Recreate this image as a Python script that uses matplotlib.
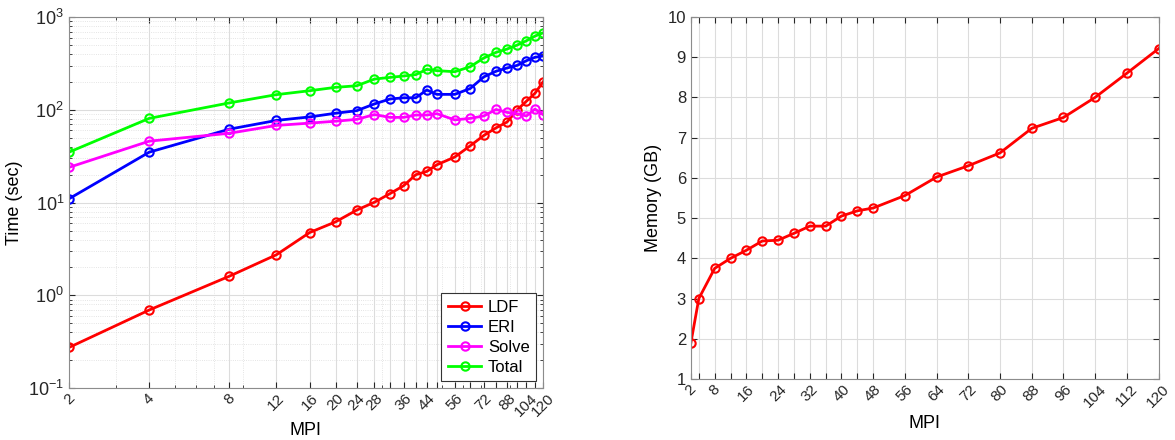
import matplotlib
matplotlib.use("Agg")
import matplotlib.pyplot as plt
from matplotlib.ticker import FixedLocator, LogLocator, NullFormatter

plt.rcParams['font.family'] = ['Liberation Sans', 'DejaVu Sans']

# data
mpi = [2, 4, 8, 12, 16, 20, 24, 28, 32, 36, 40, 44, 48, 56, 64, 72, 80, 88, 96, 104, 112, 120]
ldf = [0.274, 0.695, 1.61, 2.74, 4.76, 6.2, 8.3, 10.1, 12.5, 15.2, 20, 21.7, 25.6, 31, 41, 53,
       64, 74, 100, 124, 151, 200]
eri = [11, 35, 62, 77, 84, 92, 98, 116, 131, 135, 135, 164, 147, 147, 170, 227, 261, 283, 302,
       339, 369, 381]
solve = [24, 46, 56, 68, 72, 75.5, 79, 89, 83, 83, 88, 88, 91, 78, 81, 86, 101, 94, 91, 86, 102, 89]
total = [35, 81, 119, 146, 161, 175, 182, 215, 224, 232, 240, 274, 265, 258, 292, 363, 417, 453,
         500, 556, 625, 677]
memory = [1.9, 3.0, 3.75, 4.0, 4.2, 4.43, 4.45, 4.62, 4.8, 4.8, 5.05, 5.18, 5.25, 5.56, 6.02,
          6.3, 6.62, 7.23, 7.5, 8.0, 8.6, 9.21]

left_labels = [2, 4, 8, 12, 16, 20, 24, 28, 36, 44, 56, 72, 88, 104, 120]
right_labels = [2, 8, 16, 24, 32, 40, 48, 56, 64, 72, 80, 88, 96, 104, 112, 120]

series = [("LDF", ldf, "#ff0000"), ("ERI", eri, "#0000ff"),
          ("Solve", solve, "#ff00ff"), ("Total", total, "#00ff00")]

fig = plt.figure(figsize=(11.75, 4.4), dpi=100)
ax1 = fig.add_axes([0.0587, 0.118, 0.4034, 0.843])
ax2 = fig.add_axes([0.588, 0.1386, 0.398, 0.823])

mk = dict(marker='o', markerfacecolor='none', markersize=6, markeredgewidth=1.5, linewidth=2)

for name, vals, col in series:
    ax1.plot(mpi, vals, color=col, label=name, **mk)

ax1.set_xscale('log')
ax1.set_yscale('log')
ax1.set_xlim(2, 120)
ax1.set_ylim(0.1, 1000)
ax1.xaxis.set_major_locator(FixedLocator(mpi))
ax1.set_xticklabels([str(v) if v in left_labels else "" for v in mpi])
ax1.xaxis.set_minor_locator(LogLocator(base=10, subs=range(2, 10), numticks=20))
ax1.xaxis.set_minor_formatter(NullFormatter())
ax1.yaxis.set_minor_locator(LogLocator(base=10, subs=range(2, 10), numticks=20))
ax1.yaxis.set_minor_formatter(NullFormatter())
ax1.grid(True, which='major', color='#dcdcdc', linewidth=0.8)
ax1.grid(True, which='minor', color='#dcdcdc', linewidth=0.6, linestyle=':')
ax1.set_axisbelow(True)
ax1.set_xlabel("MPI", fontsize=13, labelpad=2)
ax1.set_ylabel("Time (sec)", fontsize=13)
leg = ax1.legend(loc='lower right', fontsize=12, fancybox=False, edgecolor='#333333',
                 framealpha=1, handlelength=2.0, borderaxespad=0.4, labelspacing=0.3,
                 handletextpad=0.4)
leg.get_frame().set_linewidth(0.8)

ax2.plot(mpi, memory, color="#ff0000", **mk)
ax2.set_xlim(2, 120)
ax2.set_ylim(1, 10)
ax2.set_xticks(mpi)
ax2.set_xticklabels([str(v) if v in right_labels else "" for v in mpi])
ax2.set_yticks(range(1, 11))
ax2.grid(True, color='#dcdcdc', linewidth=0.8)
ax2.set_axisbelow(True)
ax2.set_xlabel("MPI", fontsize=13, labelpad=4)
ax2.set_ylabel("Memory (GB)", fontsize=13)

for ax in (ax1, ax2):
    for s in ax.spines.values():
        s.set_color('#8c8c8c')
        s.set_linewidth(0.8)
    ax.tick_params(which='both', direction='in', top=True, right=True, colors='#262626',
                   labelsize=12)
    ax.tick_params(which='major', length=4)
    ax.tick_params(which='minor', length=2)
    ax.tick_params(axis='x', pad=2)
    for lab in ax.get_xticklabels():
        lab.set_rotation(45)
        lab.set_ha('center')
        lab.set_va('top')
        lab.set_fontsize(11)

ax1.tick_params(axis='y', labelsize=13)

fig.savefig("out.png", dpi=100)
